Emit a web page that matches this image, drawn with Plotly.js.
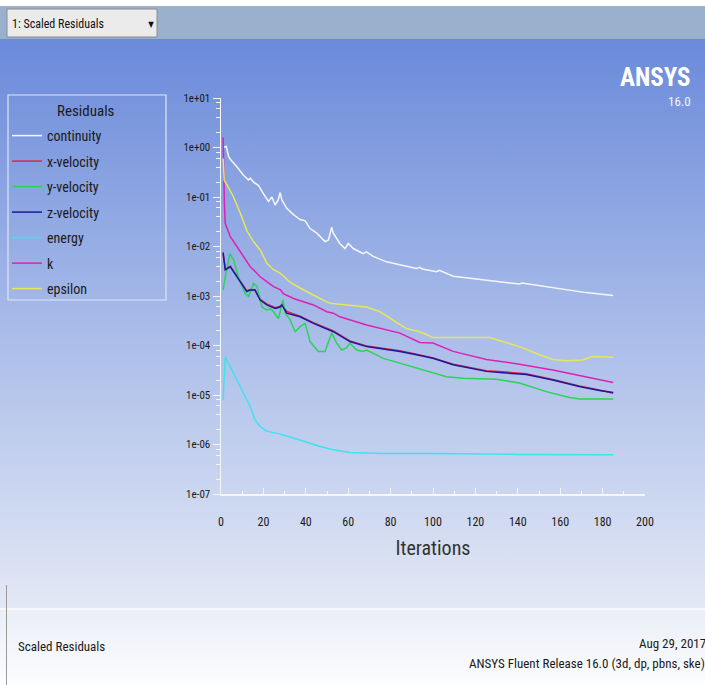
<!DOCTYPE html>
<html>
<head>
<meta charset="utf-8">
<script src="https://cdn.plot.ly/plotly-3.0.1.min.js"></script>
<style>
  html, body { margin: 0; padding: 0; width: 705px; height: 685px; overflow: hidden; }
  #bg { position: absolute; left: 0; top: 0; width: 705px; height: 685px;
    background: linear-gradient(to bottom,
      #ffffff 0px, #ffffff 6px,
      #9ab1ce 6px, #9ab1ce 39px,
      #6a8ada 39px, #a9bce9 330px, #e3e8f5 608px,
      #f7f9fc 608px, #f7f9fc 610px,
      #eaeef7 610px, #fcfdfe 685px); }
  #chart { position: absolute; left: 0; top: 0; width: 705px; height: 685px; }
  #chart svg text { font-stretch: condensed !important; }
</style>
</head>
<body>
<div id="bg"></div>
<div id="chart"></div>
<script>
// ---- data (iteration, scaled residual) ----
const seriesNames = ["continuity", "x-velocity", "y-velocity", "z-velocity", "energy", "k", "epsilon"];

const contIter = [1, 2.5, 3.6, 4.7, 7.5, 10.6, 13, 13.8, 15.4, 17.7, 20, 22.4, 24, 25.5, 27, 27.9, 28.7, 31, 34.2, 37.3, 39.7, 42, 45.2, 49.1, 50.7, 52.2, 53, 56, 58.5, 60, 62.4, 67.1, 68.6, 71.8, 78.1, 84.4, 92.2, 93.8, 95, 101.6, 103, 109.5, 125, 140.8, 142, 156.5, 160, 172.2, 185];
const contRes  = [1.0, 1.05, 0.65, 0.56, 0.41, 0.275, 0.22, 0.24, 0.20, 0.17, 0.117, 0.081, 0.10, 0.069, 0.087, 0.123, 0.087, 0.059, 0.044, 0.035, 0.033, 0.023, 0.0186, 0.0126, 0.0135, 0.0245, 0.0186, 0.0115, 0.0091, 0.0115, 0.0091, 0.0072, 0.0078, 0.0063, 0.0049, 0.0043, 0.0036, 0.0038, 0.0035, 0.0031, 0.0033, 0.0025, 0.0021, 0.00174, 0.00182, 0.00145, 0.00142, 0.00117, 0.00102];

const xvelIter = [1, 2, 4.4, 5.9, 8.2, 10.6, 12.2, 13.7, 16, 18.5, 21.6, 25.6, 27.9, 28.7, 31, 37.3, 43.6, 53, 60.8, 68.7, 76.5, 84.4, 92.2, 100, 109.5, 125.2, 133, 144, 156.5, 169, 178.5, 185];
const xvelRes  = [0.0070, 0.0035, 0.0040, 0.0032, 0.0022, 0.0016, 0.00127, 0.00135, 0.00134, 0.00086, 0.00069, 0.00058, 0.00062, 0.00067, 0.00049, 0.00039, 0.00029, 0.000198, 0.000124, 0.000098, 0.000088, 0.000078, 0.000067, 0.000056, 0.000042, 0.000031, 0.0000295, 0.0000268, 0.0000205, 0.0000152, 0.0000126, 0.0000108];

const yvelIter = [1, 2, 4.2, 5.9, 8.2, 11.4, 13, 15.4, 17, 19.3, 21.6, 23.2, 24.8, 27.1, 29.2, 30.3, 32.6, 35, 37.3, 39.7, 42, 45.9, 49.1, 52.2, 54.6, 56.9, 59.2, 60.8, 64, 67.1, 68.7, 76.5, 84.4, 92.2, 101.6, 106.3, 114.2, 129.9, 140.8, 153.4, 164.4, 169, 185];
const yvelRes  = [0.00132, 0.00245, 0.0072, 0.0054, 0.00245, 0.00112, 0.00098, 0.0018, 0.00155, 0.0006, 0.00052, 0.00056, 0.00048, 0.00035, 0.00083, 0.00045, 0.00033, 0.00019, 0.00024, 0.00028, 0.00012, 0.000076, 0.000076, 0.000178, 0.000112, 0.000081, 0.000089, 0.000112, 0.000081, 0.000076, 0.000081, 0.000055, 0.000044, 0.000035, 0.000026, 0.0000234, 0.0000219, 0.0000209, 0.0000174, 0.0000117, 0.0000089, 0.0000083, 0.0000083];

const zvelIter = [1, 2, 4.4, 5.9, 8.2, 10.6, 12.2, 13.7, 16, 18.5, 21.6, 25.6, 27.9, 28.7, 31, 37.3, 43.6, 53, 60.8, 68.7, 76.5, 84.4, 92.2, 100, 109.5, 125.2, 133, 144, 156.5, 169, 178.5, 185];
const zvelRes  = [0.0076, 0.0034, 0.0039, 0.0031, 0.0021, 0.00155, 0.00123, 0.00132, 0.00132, 0.00083, 0.00066, 0.00056, 0.0006, 0.00066, 0.00045, 0.00038, 0.00028, 0.00019, 0.00012, 0.000095, 0.000085, 0.000076, 0.000065, 0.000055, 0.000041, 0.00003, 0.000028, 0.000026, 0.00002, 0.0000148, 0.0000123, 0.0000112];

const energyIter = [1, 2, 4.4, 7.5, 10.6, 13.8, 16.1, 18.5, 21.6, 27.9, 34.2, 40.5, 46.7, 53, 60.8, 76.5, 100, 140, 185];
const energyRes  = [7.9e-6, 5.9e-5, 3.7e-5, 2.0e-5, 1.07e-5, 5.8e-6, 3.1e-6, 2.3e-6, 1.86e-6, 1.62e-6, 1.35e-6, 1.1e-6, 9.1e-7, 7.8e-7, 6.9e-7, 6.6e-7, 6.6e-7, 6.3e-7, 6.2e-7];

const kIter = [1, 1.3, 1.6, 2, 4.4, 7.5, 10.6, 13.8, 15.3, 18.5, 21.6, 24.8, 27.9, 29.4, 34.2, 38.9, 43.6, 49.9, 53, 56.1, 68.7, 84.4, 93.8, 100, 109.5, 125.2, 140.8, 156.5, 172.2, 185];
const kRes  = [1.6, 0.19, 0.074, 0.0295, 0.0158, 0.01, 0.0062, 0.0039, 0.0034, 0.00245, 0.00195, 0.00155, 0.00135, 0.00112, 0.00089, 0.00078, 0.00066, 0.00048, 0.00045, 0.00038, 0.00026, 0.000178, 0.000115, 0.000112, 0.000076, 0.000052, 0.000042, 0.000032, 0.0000234, 0.0000178];

const epsIter = [1, 1.5, 3, 5.9, 9.1, 12.2, 15.3, 18.5, 21.6, 24.8, 27.9, 32.6, 37.3, 42, 46.7, 51.4, 60.8, 68.6, 75, 81.2, 87.5, 93.8, 100, 126.7, 133, 140.8, 148.7, 156.5, 162.8, 170.6, 175.3, 185];
const epsRes  = [0.6, 0.22, 0.17, 0.10, 0.047, 0.021, 0.0126, 0.0085, 0.0046, 0.0034, 0.0029, 0.0019, 0.00145, 0.00112, 0.00089, 0.00071, 0.00066, 0.0006, 0.00048, 0.00033, 0.00022, 0.00019, 0.000145, 0.000145, 0.00012, 0.000095, 0.000069, 0.000052, 0.000049, 0.000051, 0.00006, 0.000058];

const xTickVals = [0, 20, 40, 60, 80, 100, 120, 140, 160, 180, 200];
const yTickVals = [1e-7, 1e-6, 1e-5, 1e-4, 1e-3, 1e-2, 1e-1, 1e0, 1e1];
const yTickText = ["1e-07", "1e-06", "1e-05", "1e-04", "1e-03", "1e-02", "1e-01", "1e+00", "1e+01"];

// ---- styling ----
const colors = ["#f4f6fb", "#d8284e", "#2bd455", "#1a1a96", "#3fe3ee", "#dc22b4", "#e6e65a"];
const FONT = "'Roboto Condensed', 'Liberation Sans Narrow', 'DejaVu Sans Condensed', 'DejaVu Sans', sans-serif";

const W = 705, H = 685, ML = 221, MR = 60, MT = 98, MB = 191;
const PW = W - ML - MR, PH = H - MT - MB;
const X = px => (px - ML) / PW;
const Y = py => (H - MB - py) / PH;

const xs = [contIter, xvelIter, yvelIter, zvelIter, energyIter, kIter, epsIter];
const ys = [contRes, xvelRes, yvelRes, zvelRes, energyRes, kRes, epsRes];

const traces = seriesNames.map((n, i) => ({
  type: "scatter", mode: "lines", name: n,
  x: xs[i], y: ys[i],
  line: { color: colors[i], width: 1.5 },
  legendgroup: "g" + i,
  hoverinfo: "skip"
}));

const minorY = [];
for (let e = -7; e < 1; e++) { [2, 4, 6, 8].forEach(m => minorY.push(m * Math.pow(10, e))); }

const layout = {
  width: W, height: H,
  margin: { l: ML, r: MR, t: MT, b: MB, pad: 0, autoexpand: false },
  paper_bgcolor: "rgba(0,0,0,0)", plot_bgcolor: "rgba(0,0,0,0)",
  font: { family: FONT, color: "#1a1a1a", size: 12 },
  showlegend: true,
  legend: {
    x: X(7), xanchor: "left", y: Y(120), yanchor: "top",
    bgcolor: "rgba(0,0,0,0)", borderwidth: 0,
    font: { family: FONT, size: 14, color: "#1a1a1a" },
    tracegroupgap: 4.3, itemwidth: 30, traceorder: "grouped"
  },
  xaxis: {
    range: [0, 200], showgrid: false, zeroline: false,
    showline: true, linecolor: "#f4f6fb", linewidth: 1.5,
    tickmode: "array", tickvals: xTickVals,
    ticks: "inside", ticklen: 6, tickcolor: "#f4f6fb", tickwidth: 1,
    minor: { dtick: 10, ticks: "inside", ticklen: 3, tickcolor: "#f4f6fb" },
    ticklabelstandoff: 16,
    tickfont: { family: FONT, size: 12, color: "#1a1a1a" },
    title: { text: "Iterations", standoff: 13, font: { family: FONT, size: 20, color: "#333333" } }
  },
  yaxis: {
    type: "log", range: [-7, 1], showgrid: false, zeroline: false,
    showline: true, linecolor: "#f4f6fb", linewidth: 1.5,
    tickmode: "array", tickvals: yTickVals, ticktext: yTickText,
    ticks: "outside", ticklen: 7, tickcolor: "#f4f6fb", tickwidth: 1,
    minor: { tickvals: minorY, ticks: "outside", ticklen: 4, tickcolor: "#f4f6fb" },
    tickfont: { family: FONT, size: 11, color: "#1a1a1a" }
  },
  shapes: [
    // dropdown box
    { type: "rect", xref: "paper", yref: "paper", x0: X(7), x1: X(157), y0: Y(37), y1: Y(9),
      fillcolor: "#ebebeb", line: { color: "#8c8c8c", width: 1 }, layer: "below" },
    // legend frame
    { type: "rect", xref: "paper", yref: "paper", x0: X(8), x1: X(166), y0: Y(300), y1: Y(95),
      fillcolor: "rgba(0,0,0,0)", line: { color: "#dfe6f2", width: 1.2 }, layer: "below" },
    // left border at bottom panel
    { type: "line", xref: "paper", yref: "paper", x0: X(6.5), x1: X(6.5), y0: Y(685), y1: Y(585),
      line: { color: "#9a9a9a", width: 1 } }
  ],
  annotations: [
    { xref: "paper", yref: "paper", x: X(86), y: Y(111), xanchor: "center", yanchor: "middle",
      text: "Residuals", showarrow: false, font: { family: FONT, size: 15, color: "#1a1a1a" } },
    { xref: "paper", yref: "paper", x: X(10), y: Y(23.5), xanchor: "left", yanchor: "middle",
      text: "1: Scaled Residuals", showarrow: false, font: { family: FONT, size: 12, color: "#111" } },
    { xref: "paper", yref: "paper", x: X(151), y: Y(24), xanchor: "center", yanchor: "middle",
      text: "▼", showarrow: false, font: { family: "DejaVu Sans", size: 8, color: "#111" } },
    { xref: "paper", yref: "paper", x: X(693), y: Y(78), xanchor: "right", yanchor: "middle",
      text: "<b>ANSYS</b>", showarrow: false, font: { family: FONT, size: 25, color: "#ffffff" } },
    { xref: "paper", yref: "paper", x: X(693), y: Y(102), xanchor: "right", yanchor: "middle",
      text: "16.0", showarrow: false, font: { family: FONT, size: 13, color: "#f2f5fc" } },
    { xref: "paper", yref: "paper", x: X(16), y: Y(646), xanchor: "left", yanchor: "middle",
      text: "Scaled Residuals", showarrow: false, font: { family: FONT, size: 13, color: "#1a1a1a" } },
    { xref: "paper", yref: "paper", x: X(708), y: Y(643), xanchor: "right", yanchor: "middle",
      text: "Aug 29, 2017", showarrow: false, font: { family: FONT, size: 13, color: "#1a1a1a" } },
    { xref: "paper", yref: "paper", x: X(707), y: Y(663), xanchor: "right", yanchor: "middle",
      text: "ANSYS Fluent Release 16.0 (3d, dp, pbns, ske)", showarrow: false, font: { family: FONT, size: 13, color: "#1a1a1a" } }
  ]
};

Plotly.newPlot("chart", traces, layout, { displayModeBar: false, staticPlot: true });
</script>
</body>
</html>
